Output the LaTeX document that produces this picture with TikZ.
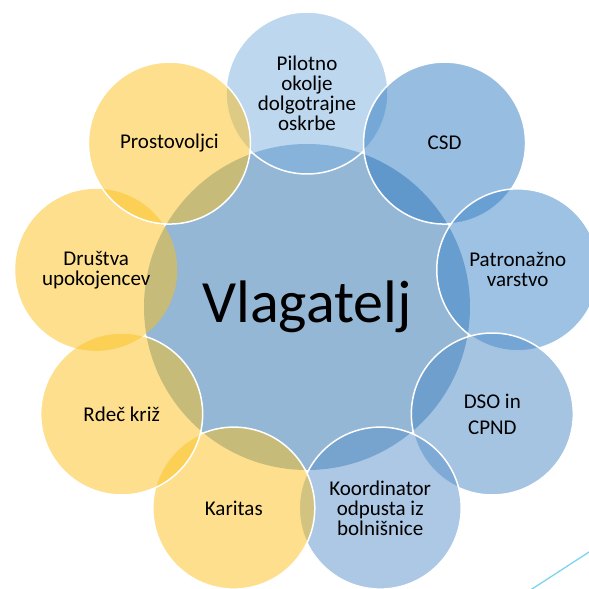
\documentclass[tikz,border=0pt]{standalone}
\usepackage{fontspec}
\setmainfont{Carlito}

\definecolor{hubblue}{RGB}{148,183,214}
\definecolor{pilotblue}{RGB}{123,175,221}
\definecolor{csdblue}{RGB}{47,123,193}
\definecolor{patblue}{RGB}{61,133,201}
\definecolor{dsoblue}{RGB}{75,137,197}
\definecolor{koordblue}{RGB}{91,145,201}
\definecolor{helpyellow}{RGB}{251,191,29}
\definecolor{decoline}{RGB}{125,211,240}

\begin{document}
\begin{tikzpicture}[x=1pt, y=1pt,
    hub/.style={circle, fill=hubblue, minimum size=326pt, inner sep=0pt},
    partner/.style={circle, draw=white, line width=1.5pt, fill opacity=0.5, text opacity=1,
        minimum size=162pt, inner sep=0pt, align=center, font=\fontsize{21}{20}\selectfont}]

    \useasboundingbox (-307,-282) rectangle (282,307);
    \clip (-307,-282) rectangle (282,307);

    \node[hub] (vlagatelj) at (0,0) {\fontsize{60}{60}\selectfont Vlagatelj};

    \node[partner, fill=pilotblue] (pilotno) at (90:214pt) {Pilotno\\okolje\\dolgotrajne\\oskrbe};
    \node[partner, fill=csdblue] (csd) at (50:214pt) {CSD};
    \node[partner, fill=patblue] (patronaza) at (10:214pt) {Patronažno\\varstvo};
    \node[partner, fill=dsoblue] (dso) at (-30:214pt) {DSO in\\[6pt]CPND};
    \node[partner, fill=koordblue] (koordinator) at (-70:214pt) {Koordinator\\odpusta iz\\bolnišnice};
    \node[partner, fill=helpyellow] (karitas) at (-110:214pt) {Karitas};
    \node[partner, fill=helpyellow] (rdeckriz) at (-150:214pt) {Rdeč križ};
    \node[partner, fill=helpyellow, draw=none] (drustva) at (170:214pt) {Društva\\upokojencev};
    \node[partner, fill=helpyellow] (prostovoljci) at (130:214pt) {Prostovoljci};

    \coordinate (deco top) at (295,-236.6);
    \coordinate (deco bottom) at (215,-288.5);
    \draw[decoline, line width=1.3pt] (deco top) -- (deco bottom);

\end{tikzpicture}
\end{document}
